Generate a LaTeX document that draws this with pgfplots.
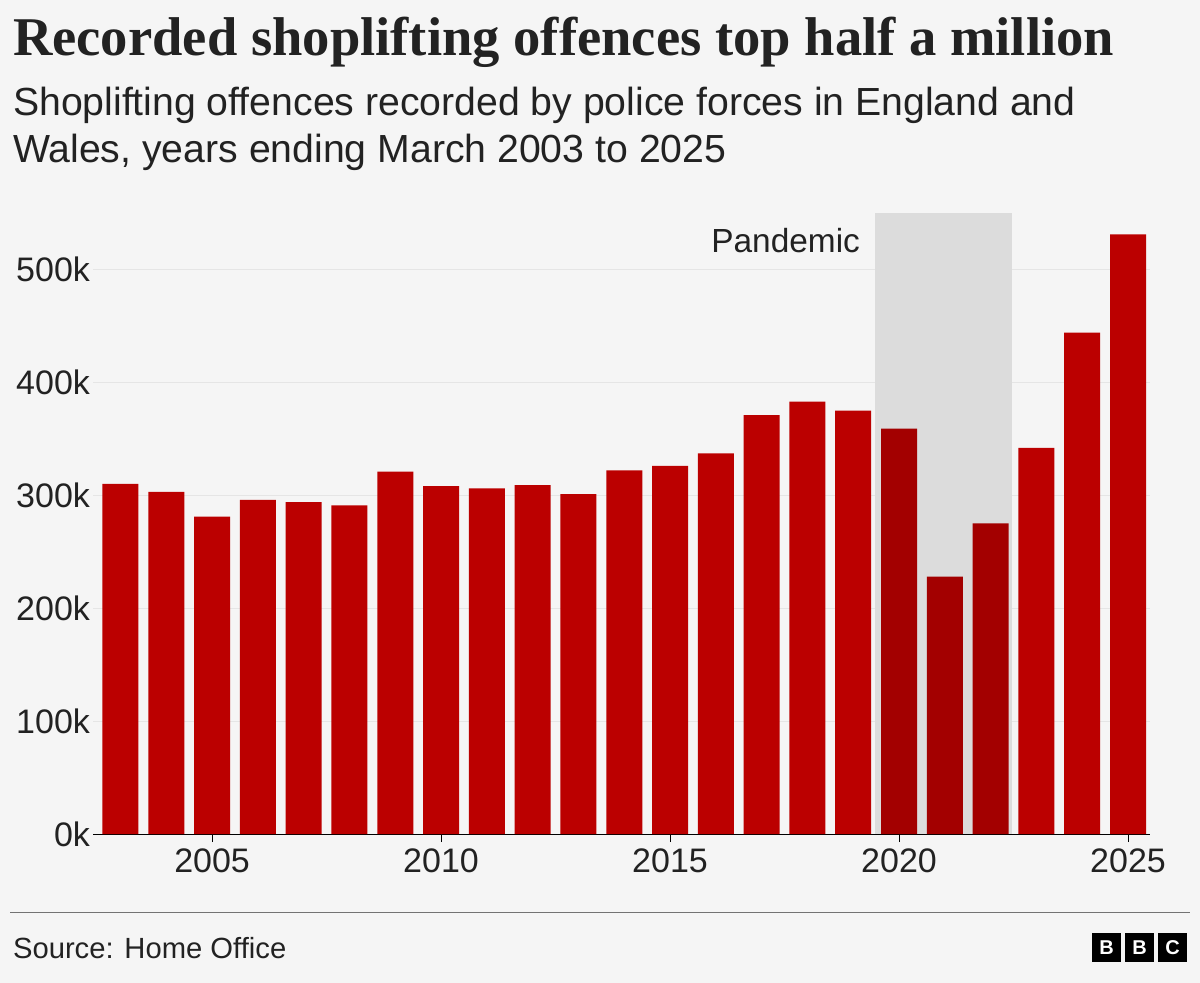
\documentclass[border=0pt]{standalone}
\usepackage{pgfplots}
\pgfplotsset{compat=1.18}
\usepackage{fontspec}
\setmainfont{Liberation Sans}
\newfontfamily\titlefont{Liberation Serif}
\definecolor{bg}{HTML}{F5F5F5}
\definecolor{barred}{HTML}{BB0000}
\definecolor{pandred}{HTML}{A30000}
\definecolor{pandshade}{HTML}{DCDCDC}
\definecolor{txt}{HTML}{222222}
\begin{document}
\begin{tikzpicture}[x=1pt,y=1pt]
\fill[bg] (0,0) rectangle (600,-491.5);
\node[anchor=west,font=\titlefont\bfseries\fontsize{27.3}{30}\selectfont,text=txt] at (3,-21) {Recorded shoplifting offences top half a million};
\node[anchor=north west,align=left,font=\fontsize{19.6}{23.5}\selectfont,text=txt] at (3,-40) {Shoplifting offences recorded by police forces in England and\\Wales, years ending March 2003 to 2025};
\begin{axis}[
  scale only axis, width=528.5pt, height=310.5pt,
  at={(46.5pt,-417pt)}, anchor=south west,
  xmin=2002.40, xmax=2025.48, ymin=0, ymax=550,
  axis x line*=bottom, axis y line*=left,
  y axis line style={draw=none},
  ytick={0,100,200,300,400,500},
  ytick style={draw=none},
  ymajorgrids, grid style={draw=black!10},
  yticklabel={\pgfmathprintnumber[fixed,precision=0]{\tick}k},
  /pgf/number format/assume math mode=true,
  /pgf/number format/1000 sep={},
  xtick={2005,2010,2015,2020,2025},
  xticklabel style={/pgf/number format/1000 sep={}},
  tick label style={font=\fontsize{17}{19}\selectfont,text=txt},
  yticklabel style={xshift=2pt},
  major tick length=4pt, xtick style={draw=black, thin},
  x axis line style={draw=black,thin},
  ybar, bar width=18pt,
  clip=false,
]
\fill[pandshade] (axis cs:2019.48,0) rectangle (axis cs:2022.47,550);
\node[anchor=east,font=\fontsize{16.7}{18}\selectfont,text=txt] at (axis cs:2019.3,526) {Pandemic};
\addplot[fill=barred,draw=none,bar shift=0pt] coordinates {
(2003,310)(2004,303)(2005,281)(2006,296)(2007,294)(2008,291)
(2009,321)(2010,308)(2011,306)(2012,309)(2013,301)(2014,322)
(2015,326)(2016,337)(2017,371)(2018,383)(2019,375)
(2023,342)(2024,444)(2025,531)};
\addplot[fill=pandred,draw=none,bar shift=0pt] coordinates {
(2020,359)(2021,228)(2022,275)};
\end{axis}
\draw[black!55,thin] (5,-456) -- (595,-456);
\node[anchor=west,font=\fontsize{14.6}{16}\selectfont,text=txt] at (3,-474) {Source: Home Office};
\foreach \i/\l in {0/B,1/B,2/C}{
  \fill[black] (546+\i*16.5,-466.5) rectangle ++(14.5,-14.5);
  \node[text=white,font=\bfseries\fontsize{10}{10}\selectfont] at (553.25+\i*16.5,-473.75) {\l};
}
\end{tikzpicture}
\end{document}
